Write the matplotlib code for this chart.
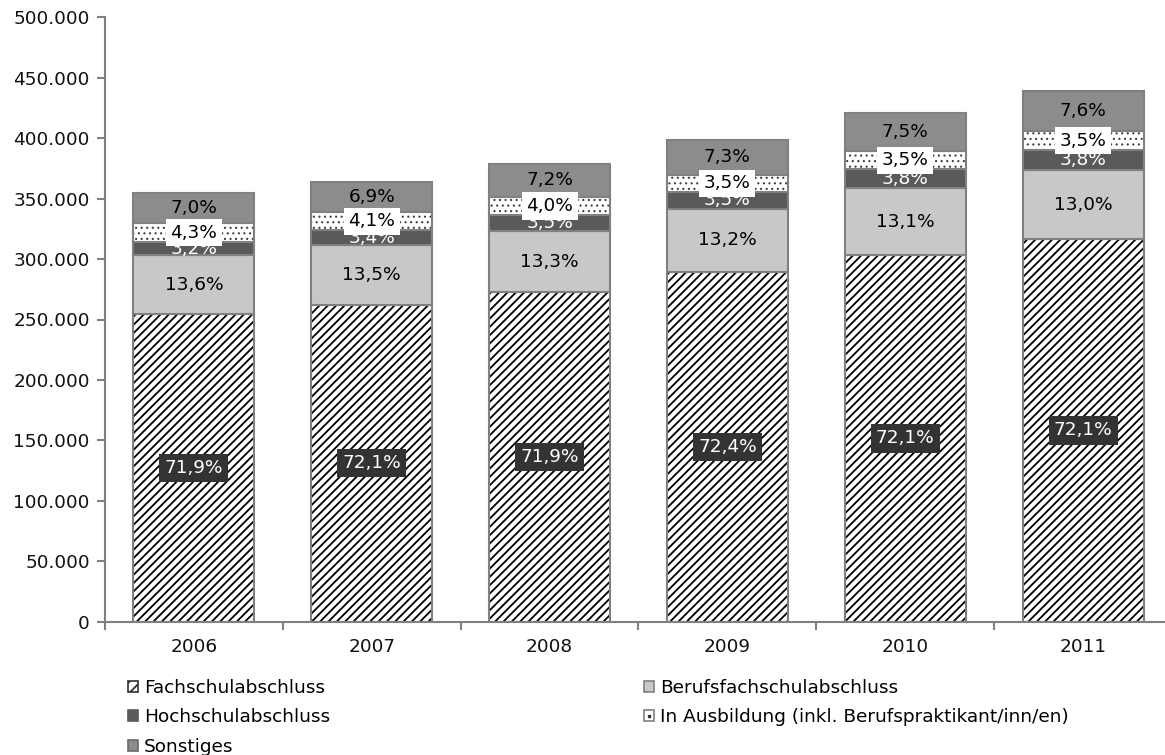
import matplotlib
matplotlib.use("Agg")
import matplotlib.pyplot as plt
from matplotlib.patches import Patch
from matplotlib.lines import Line2D
from matplotlib.legend_handler import HandlerTuple
from matplotlib.ticker import FuncFormatter, FixedLocator

# Werte in Tausend
years = ["2006", "2007", "2008", "2009", "2010", "2011"]
fachschule = [254.8, 262.4, 272.6, 289.1, 303.3, 316.5]
berufsfach = [48.2, 49.1, 50.4, 52.7, 55.1, 57.1]
hochschule = [11.3, 12.4, 13.3, 14.0, 16.0, 16.7]
ausbildung = [15.2, 14.9, 15.2, 14.0, 14.7, 15.4]
sonstiges = [24.8, 25.1, 27.3, 29.1, 31.5, 33.4]

pct_fach = ["71,9%", "72,1%", "71,9%", "72,4%", "72,1%", "72,1%"]
pct_beruf = ["13,6%", "13,5%", "13,3%", "13,2%", "13,1%", "13,0%"]
pct_hoch = ["3,2%", "3,4%", "3,5%", "3,5%", "3,8%", "3,8%"]
pct_ausb = ["4,3%", "4,1%", "4,0%", "3,5%", "3,5%", "3,5%"]
pct_sonst = ["7,0%", "6,9%", "7,2%", "7,3%", "7,5%", "7,6%"]

plt.rcParams['font.family'] = ['DejaVu Sans']
plt.rcParams['hatch.linewidth'] = 1.3

W, H = 1165, 755
fig = plt.figure(figsize=(W / 100, H / 100), dpi=100)
ax = fig.add_axes([105 / W, (H - 621.7) / H, (1172 - 105) / W, (621.7 - 17.3) / H])

x = list(range(len(years)))
bw = 0.68
edge = '#808080'

def scale(vals):
    return [v * 1000 for v in vals]

# die schraffierten Balken: Schraffur schwarz, Rahmen grau extra drueber
ax.bar(x, scale(fachschule), bw, color='white', edgecolor='black', hatch='////', linewidth=0)
ax.bar(x, scale(fachschule), bw, fill=False, edgecolor=edge, linewidth=1.5)

bottom = scale(fachschule)
ax.bar(x, scale(berufsfach), bw, bottom=bottom, color='#c8c8c8', edgecolor=edge, linewidth=1.5)
bottom2 = [b + v for b, v in zip(bottom, scale(berufsfach))]
ax.bar(x, scale(hochschule), bw, bottom=bottom2, color='#5a5a5a', edgecolor=edge, linewidth=1.5)
bottom3 = [b + v for b, v in zip(bottom2, scale(hochschule))]
with plt.rc_context({'hatch.linewidth': 0.8}):
    dots = ax.bar(x, scale(ausbildung), bw, bottom=bottom3, color='white', edgecolor='#404040',
                  hatch='...', linewidth=0)
    for p in dots:
        if hasattr(p, 'set_hatch_linewidth'):
            p.set_hatch_linewidth(0.8)
ax.bar(x, scale(ausbildung), bw, bottom=bottom3, fill=False, edgecolor=edge, linewidth=1.5)
bottom4 = [b + v for b, v in zip(bottom3, scale(ausbildung))]
ax.bar(x, scale(sonstiges), bw, bottom=bottom4, color='#8c8c8c', edgecolor=edge, linewidth=1.5)

fs = 13.3
for i in x:
    ax.text(i, bottom[i] / 2, pct_fach[i], ha='center', va='center', color='white', fontsize=fs,
            bbox=dict(boxstyle='square,pad=0.28', fc='#333333', ec='none'))
    ax.text(i, bottom[i] + berufsfach[i] * 500, pct_beruf[i], ha='center', va='center',
            color='black', fontsize=fs)
    ax.text(i, bottom2[i] + hochschule[i] * 500, pct_hoch[i], ha='center', va='center',
            color='white', fontsize=fs)
    ax.text(i, bottom3[i] + ausbildung[i] * 500, pct_ausb[i], ha='center', va='center',
            color='black', fontsize=fs,
            bbox=dict(boxstyle='square,pad=0.25', fc='white', ec='none'))
    ax.text(i, bottom4[i] + sonstiges[i] * 500, pct_sonst[i], ha='center', va='center',
            color='black', fontsize=fs)

ax.set_xlim(-0.5, len(years) - 0.5)
ax.set_ylim(0, 500000)
ax.set_yticks(range(0, 500001, 50000))
ax.yaxis.set_major_formatter(FuncFormatter(lambda v, pos: f"{int(v):,}".replace(",", ".")))
ax.set_xticks(x)
ax.set_xticklabels(years)
ax.xaxis.set_minor_locator(FixedLocator([i - 0.5 for i in range(len(years) + 1)]))
ax.tick_params(axis='x', which='major', length=0, pad=12, labelsize=fs, labelcolor='#111111')
ax.tick_params(axis='x', which='minor', length=6, width=1.5, color=edge, direction='out')
ax.tick_params(axis='y', length=6, width=1.5, color=edge, labelsize=fs, labelcolor='#111111', pad=5)

for s in ['top', 'right']:
    ax.spines[s].set_visible(False)
for s in ['left', 'bottom']:
    ax.spines[s].set_color(edge)
    ax.spines[s].set_linewidth(1.5)

# Legende in zwei Spalten
h_fach = Patch(facecolor='white', edgecolor='#303030', hatch='///', linewidth=1.2)
h_beruf = Patch(facecolor='#c8c8c8', edgecolor=edge, linewidth=1.2)
h_hoch = Patch(facecolor='#5a5a5a', edgecolor='#5a5a5a', linewidth=1.2)
h_ausb = (Patch(facecolor='white', edgecolor=edge, linewidth=1.2),
          Line2D([], [], marker='s', markersize=2, color='#333333', linestyle='none'))
h_sonst = Patch(facecolor='#8c8c8c', edgecolor='#6a6a6a', linewidth=1.2)

leg_kw = dict(loc='upper left', frameon=False, fontsize=fs, handlelength=0.55, handleheight=0.55,
              handletextpad=0.3, labelspacing=0.62, borderaxespad=0, borderpad=0,
              handler_map={tuple: HandlerTuple(ndivide=1, pad=0)})
leg1 = fig.legend([h_fach, h_hoch, h_sonst],
                  ["Fachschulabschluss", "Hochschulabschluss", "Sonstiges"],
                  bbox_to_anchor=(128 / W, 1 - 679 / H), **leg_kw)
leg2 = fig.legend([h_beruf, h_ausb],
                  ["Berufsfachschulabschluss", "In Ausbildung (inkl. Berufspraktikant/inn/en)"],
                  bbox_to_anchor=(644 / W, 1 - 679 / H), **leg_kw)

fig.savefig("out.png", dpi=100)
